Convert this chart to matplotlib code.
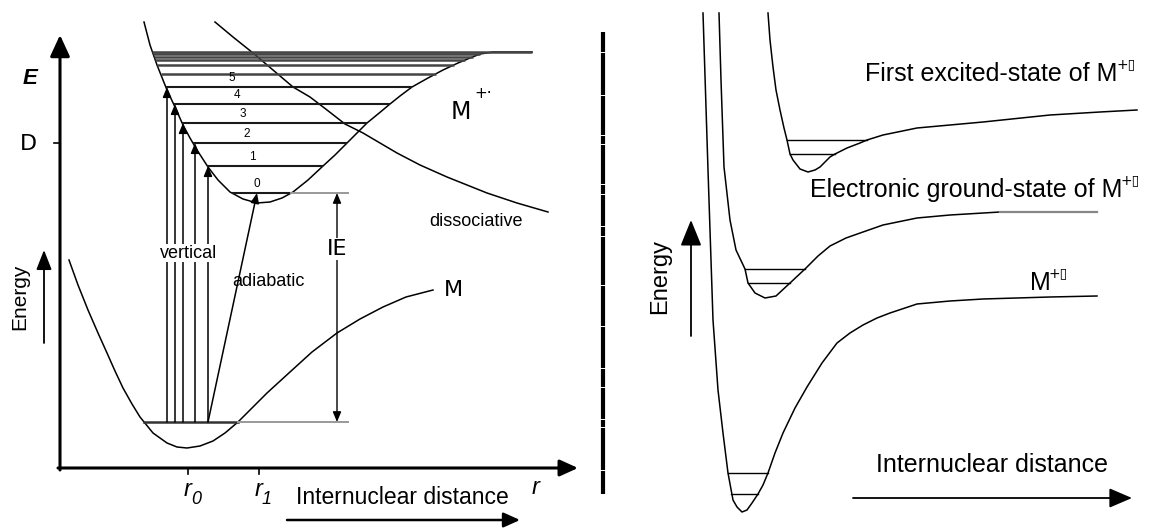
import numpy as np
import matplotlib.pyplot as plt

plt.rcParams['font.family'] = ['Liberation Sans', 'DejaVu Sans']

W, H = 1153, 529

# ---------------- left panel (pixel coords) ----------------
# neutral molecule M
m_x = [69, 78, 88, 98, 107, 115, 123, 132, 140, 153, 167, 177, 187, 200, 213, 225, 238, 252, 267, 290, 312, 337, 360, 383, 406, 433]
m_y = [260, 285, 310, 333, 353, 371, 388, 404, 417, 433, 443, 447, 448, 446, 441, 433, 422, 408, 393, 372, 352, 333, 319, 307, 297, 290]

# ion M+. (left and right branch of the well)
ion_left_x = [144, 150, 157, 163, 167, 175, 183, 190, 197, 208, 218, 230, 243, 257]
ion_left_y = [22, 45, 65, 80, 90, 107, 125, 138, 150, 167, 180, 192, 199, 203]
ion_right_x = [257, 270, 282, 293, 308, 323, 335, 347, 357, 367, 378, 390, 400, 412, 428, 443, 458, 470, 480, 493]
ion_right_y = [203, 202, 198, 192, 180, 166, 155, 143, 133, 123, 114, 104, 96, 87, 78, 70, 63, 58, 54, 52]
ion_flat_end = 532

# dissociative state
diss_x = [215, 233, 253, 273, 293, 310, 327, 345, 363, 380, 397, 420, 447, 467, 487, 517, 548]
diss_y = [22, 37, 53, 70, 87, 97, 110, 124, 133, 143, 153, 165, 177, 185, 193, 203, 212]

# vibrational levels of M+.
vib_y = [193, 166, 143, 123, 104, 87, 74, 65, 60, 57, 54, 52]
vib_labels = ['0', '1', '2', '3', '4', '5']
vib_label_x = [257, 252, 247, 243, 237, 232]
vert_x = [208, 195, 183, 175, 167]        # vertical transitions to v = 1..5
ground_y = 422
ie_x = 337
r_ticks = [188, 259]
r_tick_labels = ['0', '1']

# ---------------- right panel ----------------
a_x = [703, 708, 713, 718, 723, 728, 733, 737, 742, 747, 752, 758, 763, 768, 775, 783, 795, 807, 822, 837, 850, 863, 877, 890, 917, 950, 983, 1050, 1097]
a_y = [13, 170, 320, 390, 433, 473, 500, 507, 512, 510, 503, 494, 485, 473, 453, 433, 408, 387, 363, 343, 333, 325, 318, 313, 304, 301, 299, 297, 296]
b_x = [719, 721, 724, 730, 736, 745, 748, 755, 765, 776, 790, 805, 818, 830, 846, 863, 883, 917, 950, 1000, 1097]
b_y = [13, 80, 167, 220, 250, 269, 283, 293, 298, 296, 283, 269, 256, 246, 238, 232, 225, 218, 215, 212, 212]
c_x = [768, 770, 773, 776, 780, 784, 787, 790, 793, 800, 808, 815, 820, 830, 835, 847, 860, 867, 883, 917, 950, 983, 1050, 1100, 1137]
c_y = [13, 40, 67, 90, 110, 128, 140, 154, 160, 169, 172, 170, 167, 157, 154, 148, 143, 140, 135, 128, 125, 122, 115, 112, 110]

a_lev_y, a_lev_x0, a_lev_x1 = [473, 494], [728, 731], [768, 758]
b_lev_y, b_lev_x0, b_lev_x1 = [269, 283], [745, 748], [805, 790]
c_lev_y, c_lev_x0, c_lev_x1 = [140, 154], [787, 790], [867, 835]

divider_gaps = [52, 95, 135, 144, 184, 194, 226, 236, 285, 326, 368, 387, 419, 427, 470]


def arrow(ax, start, end, lw=1.0, hl=0.6, hw=0.25, style='-|>', color='black'):
    ax.annotate('', xy=end, xytext=start,
                arrowprops=dict(arrowstyle=f'{style},head_length={hl},head_width={hw}',
                                lw=lw, color=color, shrinkA=0, shrinkB=0,
                                mutation_scale=10))


fig = plt.figure(figsize=(W / 100, H / 100), dpi=100)
ax = fig.add_axes((0, 0, 1, 1))
ax.set_xlim(0, W)
ax.set_ylim(H, 0)
ax.axis('off')

LW = 1.1
# ---- left panel axes ----
arrow(ax, (60, 470), (60, 35), lw=2.2, hl=1.3, hw=0.6)
arrow(ax, (58, 468), (578, 468), lw=2.2, hl=1.1, hw=0.5)
ax.plot([54, 60], [143, 143], color='black', lw=1.2)
for rx, lab in zip(r_ticks, r_tick_labels):
    ax.plot([rx, rx], [468, 474], color='black', lw=1.2)
    ax.text(rx + 3, 490, 'r', fontsize=17, fontstyle='italic', ha='right', va='center')
    ax.text(rx + 3, 499, lab, fontsize=13, fontstyle='italic', ha='left', va='center')

# curves
ax.plot(m_x, m_y, color='black', lw=LW, solid_joinstyle='round')
ax.plot(ion_left_x + ion_right_x[1:] + [ion_flat_end], ion_left_y + ion_right_y[1:] + [ion_right_y[-1]],
        color='black', lw=LW, solid_joinstyle='round')
ax.plot(diss_x, diss_y, color='black', lw=LW, solid_joinstyle='round')

# vibrational levels
lx = np.interp(vib_y, ion_left_y, ion_left_x)
rx_ = np.interp(vib_y, ion_right_y[::-1], ion_right_x[::-1])
for i, y in enumerate(vib_y):
    x1 = ion_flat_end if i == len(vib_y) - 1 else rx_[i]
    col = '#1a1a1a' if i < 6 else '#444444'
    ax.plot([lx[i], x1], [y, y], color=col, lw=1.5 if i < 6 else 1.8, solid_capstyle='butt')
ax.plot([rx_[0], ie_x + 11], [vib_y[0], vib_y[0]], color='#999999', lw=1.4)
for lab, x, y in zip(vib_labels, vib_label_x, vib_y[:6]):
    ax.text(x, y - 3, lab, fontsize=8.5, ha='center', va='bottom')

# ground level of M
n_min = int(np.argmax(m_y))
g_left = np.interp(ground_y, m_y[:n_min + 1], m_x[:n_min + 1])
g_right = np.interp(ground_y, m_y[n_min:][::-1], m_x[n_min:][::-1])
ax.plot([g_left, g_right], [ground_y, ground_y], color='#333333', lw=1.8)
ax.plot([g_right, ie_x + 11], [ground_y, ground_y], color='#999999', lw=1.4)

# transitions
for x, y in zip(vert_x, vib_y[1:6]):
    arrow(ax, (x, ground_y), (x, y), lw=1.1)
arrow(ax, (vert_x[0], ground_y), (257, vib_y[0]), lw=1.1)
arrow(ax, (ie_x, ground_y), (ie_x, vib_y[0]), lw=1.0, style='<|-|>')

# labels
ax.text(30, 78, 'E', fontsize=16, fontweight='bold', fontstyle='italic', ha='center', va='center')
ax.text(28, 144, 'D', fontsize=16, family='DejaVu Sans', ha='center', va='center')
ax.text(ie_x, 249, 'IE', fontsize=16, family='DejaVu Sans', ha='center', va='center',
        bbox=dict(facecolor='white', edgecolor='none', pad=1))
ax.text(189, 253, 'vertical', fontsize=13, ha='center', va='center',
        bbox=dict(facecolor='white', edgecolor='none', pad=0.5))
ax.text(268, 281, 'adiabatic', fontsize=13, ha='center', va='center')
ax.text(476, 222, 'dissociative', fontsize=13, ha='center', va='center')
ax.text(453, 290, 'M', fontsize=16, family='DejaVu Sans', ha='center', va='center')
ax.text(461, 112, 'M', fontsize=17, family='DejaVu Sans', ha='center', va='center')
ax.text(474, 93, '+·', fontsize=11, family='DejaVu Sans', ha='left', va='center')
ax.text(20, 297, 'Energy', fontsize=15, rotation=90, ha='center', va='center')
arrow(ax, (44, 343), (44, 250), lw=1.3, hl=1.2, hw=0.47)

ax.text(296, 497, 'Internuclear distance', fontsize=16.5, ha='left', va='center')
ax.text(536, 488, 'r', fontsize=17, fontstyle='italic', ha='center', va='center')
arrow(ax, (287, 520), (520, 520), lw=1.8, hl=1.0, hw=0.45)

# ---- divider ----
ax.plot([603, 603], [32, 494], color='black', lw=3.0, solid_capstyle='butt')
for gy in divider_gaps:
    ax.plot([600, 606], [gy, gy], color='white', lw=0.7)

# ---- right panel ----
for xs, ys in ((a_x, a_y), (b_x, b_y), (c_x, c_y)):
    ax.plot(xs, ys, color='black', lw=LW, solid_joinstyle='round')
bx = np.array(b_x)
ax.plot(bx[bx >= 1000], np.array(b_y)[bx >= 1000], color='#888888', lw=1.6)
for ly, x0, x1 in ((a_lev_y, a_lev_x0, a_lev_x1), (b_lev_y, b_lev_x0, b_lev_x1), (c_lev_y, c_lev_x0, c_lev_x1)):
    for y, xa, xb in zip(ly, x0, x1):
        ax.plot([xa, xb], [y, y], color='black', lw=1.0)

ax.text(865, 74, 'First excited-state of M', fontsize=18, ha='left', va='center')
ax.text(1117, 64, '+\u25af', fontsize=10, family='DejaVu Sans', ha='left', va='center')
ax.text(810, 190, 'Electronic ground-state of M', fontsize=18, ha='left', va='center')
ax.text(1120, 180, '+\u25af', fontsize=10, family='DejaVu Sans', ha='left', va='center')
ax.text(1030, 283, 'M', fontsize=18, ha='left', va='center')
ax.text(1048, 273, '+\u25af', fontsize=10, family='DejaVu Sans', ha='left', va='center')
ax.text(660, 276, 'Energy', fontsize=17, rotation=90, ha='center', va='center')
arrow(ax, (691, 336), (691, 220), lw=1.3, hl=1.6, hw=0.65)
ax.text(992, 465, 'Internuclear distance', fontsize=18, ha='center', va='center')
arrow(ax, (853, 498), (1132, 498), lw=1.3, hl=1.4, hw=0.6)

fig.savefig('out.png', dpi=100)
